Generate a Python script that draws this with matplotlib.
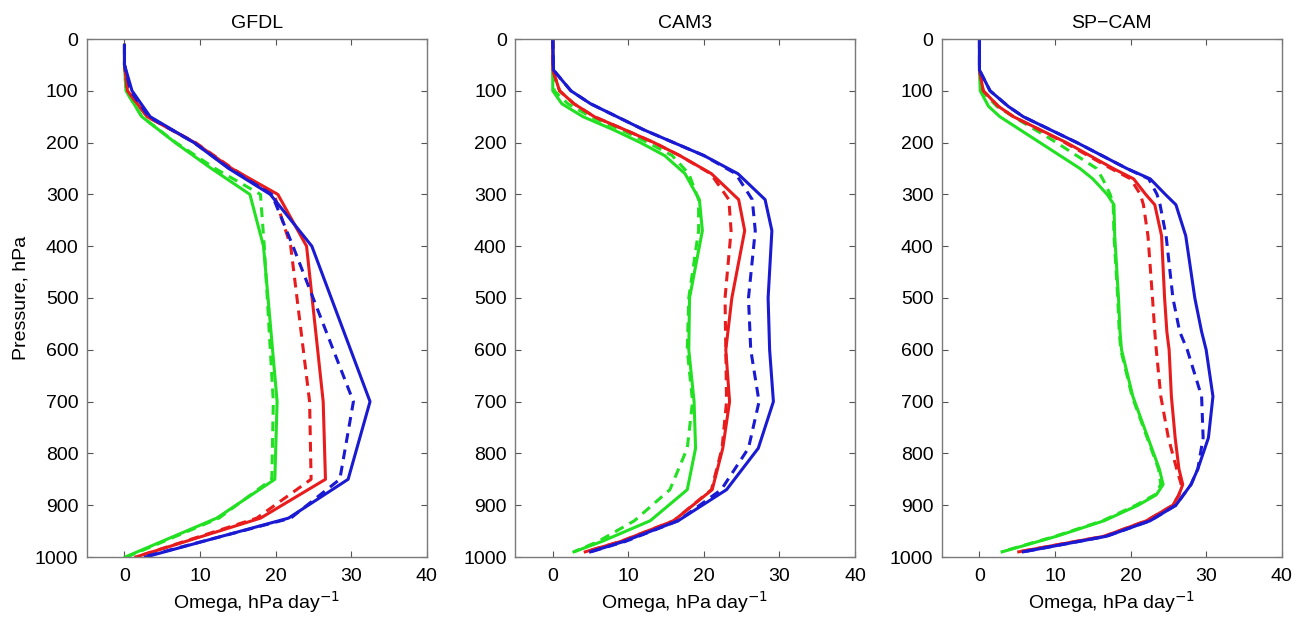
import matplotlib
matplotlib.use("Agg")
import matplotlib.pyplot as plt

plt.rcParams["font.family"] = ["Liberation Sans", "DejaVu Sans"]

# GFDL: coarse model levels (hPa)
gfdl_p = [12, 50, 100, 150, 200, 250, 300, 400, 700, 850, 925, 1000]
gfdl_blue = [0, 0, 1.0, 3.4, 9.2, 13.8, 19.3, 24.8, 32.5, 29.6, 21.7, 2.8]
gfdl_blue_d = [0, 0, 0.8, 3.2, 9.2, 13.9, 19.5, 22.3, 30.3, 28.5, 22.0, 2.5]
gfdl_red = [0, 0, 0.4, 3.0, 9.3, 14.2, 20.3, 24.1, 26.3, 26.6, 18.0, 1.5]
gfdl_red_d = [0, 0, 0.4, 3.0, 9.4, 14.3, 19.8, 22.0, 24.5, 24.7, 17.5, 1.5]
gfdl_green = [0, 0, 0.2, 2.3, 6.7, 11.5, 16.6, 18.4, 20.2, 19.9, 12.2, 0.1]
gfdl_green_d = [0, 0, 0.2, 2.3, 6.8, 12.0, 18.0, 18.5, 19.7, 19.5, 12.5, 0.3]

# CAM3
cam_p = [0, 60, 100, 125, 150, 175, 200, 225, 260, 310, 370, 500, 600, 700, 790, 870, 930, 970, 990]
cam_blue = [0, 0.1, 2.4, 5.0, 8.5, 12.0, 16.0, 20.0, 24.5, 28.1, 29.0, 28.5, 28.7, 29.2, 27.2, 23.0, 16.6, 9.4, 5.0]
cam_blue_d = [0, 0.1, 2.4, 5.0, 8.5, 12.0, 16.0, 20.0, 24.2, 26.4, 26.8, 25.9, 26.2, 27.3, 25.9, 22.3, 16.6, 9.6, 5.0]
cam_red = [0, 0, 0.9, 2.8, 5.5, 9.5, 13.4, 16.8, 21.0, 24.6, 25.4, 23.7, 22.9, 23.4, 22.5, 21.1, 16.0, 9.0, 4.3]
cam_red_d = [0, 0, 0.9, 2.8, 5.5, 9.5, 13.4, 16.8, 20.9, 23.3, 23.6, 22.8, 22.9, 23.0, 22.4, 21.0, 16.0, 9.0, 4.3]
cam_green = [0, 0, 0, 1.2, 4.0, 8.0, 11.6, 14.8, 17.5, 19.4, 19.8, 18.1, 18.0, 18.7, 18.9, 17.8, 12.9, 6.5, 2.8]
cam_green_d = [0, 0, 0.2, 2.0, 5.0, 9.0, 12.6, 15.8, 18.0, 19.3, 19.3, 18.0, 17.8, 18.5, 17.8, 15.5, 10.8, 6.0, 2.8]

# SP-CAM
sp_p = [0, 60, 100, 130, 150, 200, 250, 270, 300, 320, 380, 500, 565, 600, 690, 770, 830, 860, 880, 900, 930, 960, 990]
sp_blue = [0, 0, 1.4, 3.8, 5.8, 12.9, 19.5, 22.6, 24.6, 26.0, 27.3, 28.5, 29.4, 30.0, 30.9, 30.3, 28.9, 28.0, 27.0, 26.0, 22.6, 16.8, 5.8]
sp_blue_d = [0, 0, 1.4, 3.8, 5.8, 12.9, 19.5, 22.4, 23.5, 23.9, 24.7, 25.6, 26.5, 27.5, 29.4, 29.6, 28.9, 28.0, 27.0, 26.0, 22.6, 16.8, 5.8]
sp_red = [0, 0, 0.5, 2.5, 4.5, 11.5, 17.7, 20.4, 22.0, 23.2, 24.1, 24.5, 24.8, 25.1, 25.4, 25.9, 26.4, 26.9, 26.4, 25.6, 22.1, 16.5, 5.2]
sp_red_d = [0, 0, 0.5, 2.5, 4.5, 11.3, 17.4, 20.0, 21.3, 21.7, 22.3, 22.9, 23.2, 23.4, 24.0, 25.0, 26.1, 26.7, 26.4, 25.6, 22.1, 16.5, 5.2]
sp_green = [0, 0, 0.1, 1.2, 2.7, 8.0, 13.3, 15.0, 16.9, 17.8, 17.9, 18.4, 18.6, 18.8, 20.3, 22.3, 23.8, 24.3, 23.4, 21.0, 16.5, 10.2, 3.0]
sp_green_d = [0, 0, 0.3, 2.3, 4.5, 10.2, 15.5, 16.3, 17.3, 17.7, 17.8, 18.3, 18.5, 18.7, 20.2, 22.2, 23.7, 24.0, 23.2, 20.7, 16.3, 10.0, 2.9]

titles = ["GFDL", "CAM3", "SP\u2212CAM"]
xticks = [0, 10, 20, 30, 40]
yticks = list(range(0, 1001, 100))

panels = [
    (gfdl_p, gfdl_green, gfdl_green_d, gfdl_red, gfdl_red_d, gfdl_blue, gfdl_blue_d),
    (cam_p, cam_green, cam_green_d, cam_red, cam_red_d, cam_blue, cam_blue_d),
    (sp_p, sp_green, sp_green_d, sp_red, sp_red_d, sp_blue, sp_blue_d),
]

colors = {"green": "#22e022", "red": "#e81c1c", "blue": "#1a1ad2"}
fs = 14

fig = plt.figure(figsize=(13.04, 6.18), dpi=100)
lefts = [86.7, 515.0, 941.7]
for i, (p, g, gd, r, rd, b, bd) in enumerate(panels):
    ax = fig.add_axes([lefts[i] / 1304, 1 - 557 / 618, 340 / 1304, 518 / 618])
    dash = (0, (3.2, 2.2))
    for sol, das, c in [(g, gd, "green"), (r, rd, "red"), (b, bd, "blue")]:
        ax.plot(das, p, color=colors[c], lw=2.2, linestyle=dash)
        ax.plot(sol, p, color=colors[c], lw=2.2)
    ax.set_xlim(-5, 40)
    ax.set_ylim(1000, 0)
    ax.set_xticks(xticks)
    ax.set_yticks(yticks)
    ax.tick_params(direction="in", top=True, right=True, length=4, labelsize=fs,
                   color="#555555", pad=6)
    ax.tick_params(axis="x", pad=8)
    for s in ax.spines.values():
        s.set_color("#7a7a7a")
        s.set_linewidth(1.0)
    ax.set_title(titles[i], fontsize=fs, pad=8)
    ax.set_xlabel("Omega, hPa day$^{-1}$", fontsize=fs, labelpad=3)
    if i == 0:
        ax.set_ylabel("Pressure, hPa", fontsize=fs, labelpad=4)

fig.savefig("out.png", dpi=100)
